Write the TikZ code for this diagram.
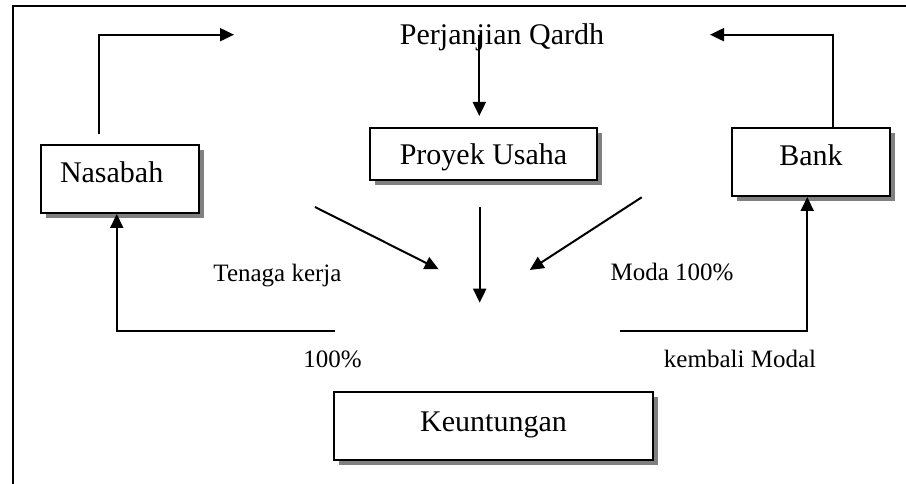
\documentclass[tikz,border=0pt]{standalone}
\usepackage{fontspec}
\setmainfont{Liberation Serif}
\usetikzlibrary{arrows.meta,shadows}
\definecolor{shadowgray}{RGB}{128,128,128}
\tikzset{
  flow/.style={line width=0.8pt, -{Triangle[length=5.6pt,width=5.2pt]}},
  frameline/.style={line width=0.8pt},
  box/.style={draw, line width=0.8pt, fill=white, inner sep=0pt,
    general shadow={fill=shadowgray, shadow xshift=2pt, shadow yshift=-2pt},
    font=\fontsize{12}{14}\selectfont, text height=8pt},
  bigtext/.style={font=\fontsize{12}{14}\selectfont, inner sep=0pt, anchor=base},
  lbl/.style={font=\fontsize{10}{12}\selectfont, inner sep=0pt, anchor=base},
}
\begin{document}
\begin{tikzpicture}[x=0.4pt, y=-0.4pt]
  \useasboundingbox (0,0) rectangle (906,484);
  % open frame: left and top edges
  \draw[frameline] (12.5,484) -- (12.5,5.7) -- (906,5.7);

  % boxes
  \node[box, minimum width=63.2pt, minimum height=27.2pt, text width=48pt,
        inner xsep=7.6pt, align=left, text depth=5pt] (nas) at (120,179) {Nasabah};
  \node[box, minimum width=90.8pt, minimum height=20.8pt,
        text height=9pt, text depth=0.2pt] (pro) at (483.5,154) {Proyek Usaha};
  \node[box, minimum width=63.2pt, minimum height=27.2pt, text depth=5pt] (bank) at (811,162) {Bank};
  \node[box, minimum width=127.6pt, minimum height=27.2pt, text depth=3.4pt] (keu) at (493.5,426) {Keuntungan};

  % agreement title
  \node[bigtext] (title) at (502,44.5) {Perjanjian Qardh};

  % labels
  \node[lbl] (tk) at (277.5,281.7) {Tenaga kerja};
  \node[lbl] (moda) at (672,281) {Moda 100\%};
  \node[lbl] (pct) at (332.5,367.7) {100\%};
  \node[lbl] (kmb) at (740,367.7) {kembali Modal};

  % loops into the agreement
  \coordinate (nasTip) at (234,34.7);
  \coordinate (bankTip) at (710,34.7);
  \draw[flow] ([xshift=-8.3pt,yshift=4pt]nas.north) |- (nasTip);
  \draw[flow] ([xshift=8.7pt]bank.north) |- (bankTip);

  % agreement to project
  \coordinate (qStart) at (479.3,35);
  \draw[flow] (qStart) -- ([yshift=4.4pt]pro.north -| qStart);

  % three inputs converging
  \coordinate (lStart) at (315,207);
  \coordinate (lTip) at (438.7,269.3);
  \coordinate (cStart) at (479.7,207);
  \coordinate (cTip) at (479.7,302.7);
  \coordinate (rStart) at (641.7,197.3);
  \coordinate (rTip) at (529.7,270);
  \draw[flow] (lStart) -- (lTip);
  \draw[flow] (cStart) -- (cTip);
  \draw[flow] (rStart) -- (rTip);

  % returns to customer and bank
  \coordinate (retL) at (335,330.7);
  \coordinate (retR) at (620.3,330.7);
  \draw[flow] (retL) -| ([xshift=-1.3pt]nas.south);
  \draw[flow] (retR) -| ([xshift=-1.5pt]bank.south);
\end{tikzpicture}
\end{document}
